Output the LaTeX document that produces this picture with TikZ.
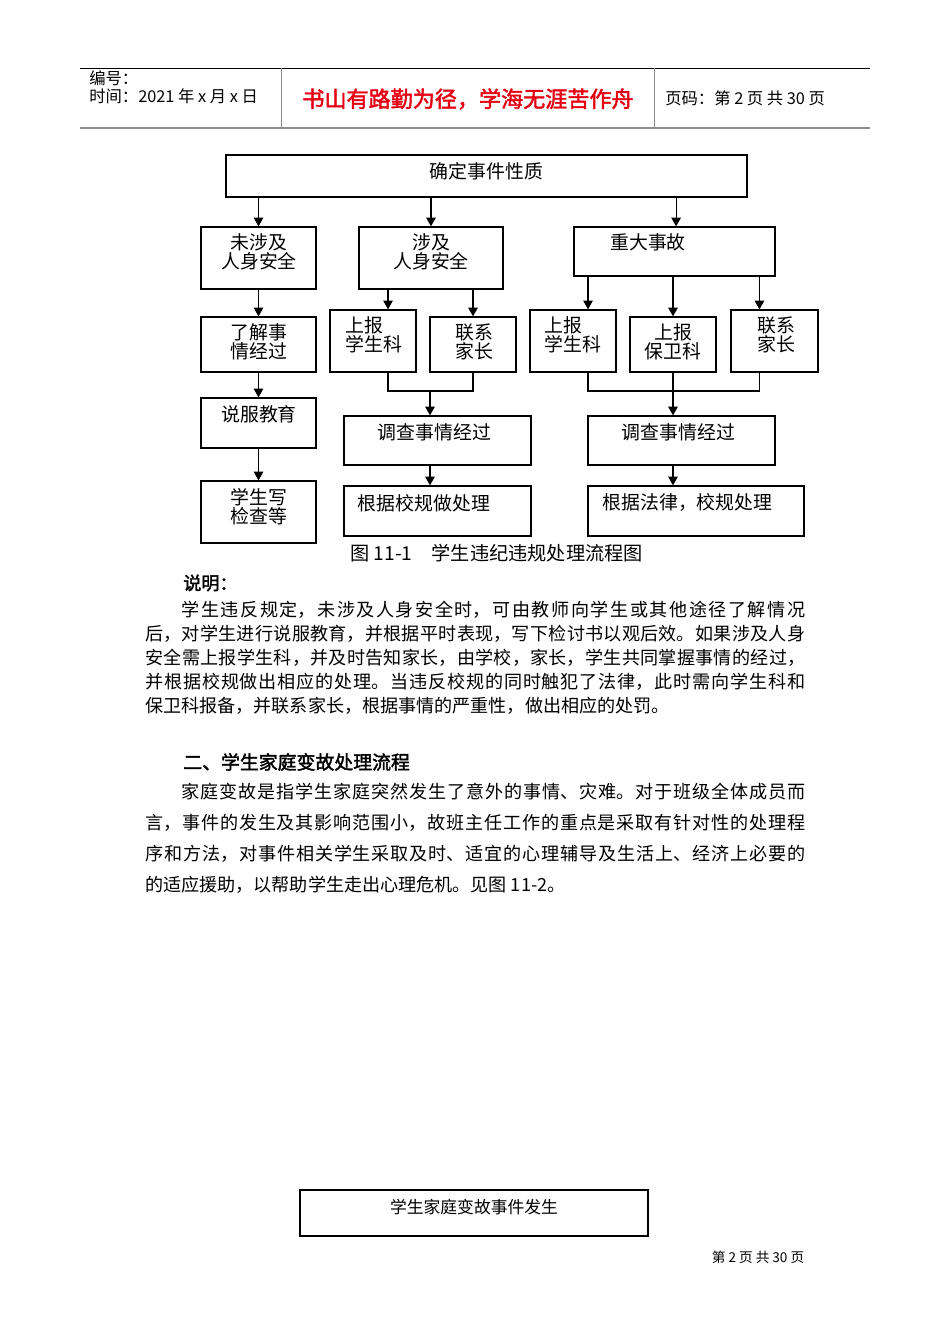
\documentclass[tikz,border=0pt]{standalone}
\usepackage{fontspec}
\setmainfont{Noto Sans CJK SC}
\newfontfamily\boldcjk{Noto Sans CJK SC}[FakeBold=2]
\usepackage{xcolor}
\usetikzlibrary{arrows.meta, positioning}
\definecolor{mottored}{RGB}{230,0,18}
\definecolor{rulegray}{RGB}{140,140,140}
\XeTeXlinebreaklocale "zh"
\XeTeXlinebreakskip=0pt plus 2pt

\begin{document}
\begin{tikzpicture}[x=0.625pt,y=-0.625pt,
    box/.style 2 args={draw,line width=0.8pt,minimum width=#1*0.625pt,
      minimum height=#2*0.625pt,inner sep=0pt},
    txt/.style={font=\fontsize{11.8}{11.9}\selectfont,align=center,inner sep=0pt},
    ltxt/.style={txt,align=left},
    arrow/.style={-{Triangle[length=5.5pt,width=6pt]},line width=0.7pt},
    link/.style={line width=0.7pt},
    head/.style={anchor=west,inner sep=0pt,font=\fontsize{10.2}{12}\selectfont},
    para/.style={anchor=north west,inner sep=0pt,text width=412.5pt,align=justify},
  ]
  \useasboundingbox (0,0) rectangle (950,1344);
  \fill[white] (0,0) rectangle (950,1344);

  % page header
  \draw[line width=0.6pt] (80,68) -- (870,68);
  \draw[rulegray,line width=1.3pt] (80,128) -- (870,128);
  \draw[rulegray,line width=0.6pt] (281,68) -- (281,128);
  \draw[rulegray,line width=0.6pt] (654,68) -- (654,128);
  \node[head] (serial) at (89,78) {编号：};
  \node[head] (date) at (89,96) {时间：2021 年 x 月 x 日};
  \node[inner sep=0pt,mottored,font=\boldcjk\fontsize{13.8}{15}\selectfont]
    (motto) at (468,99) {书山有路勤为径，学海无涯苦作舟};
  \node[head] (pageno) at (665,98) {页码：第 2 页 共 30 页};

  % flowchart boxes
  \node[box={521}{42}] (nature) at (486.5,176) {};
  \node[box={115}{62}] (nosafe) at (258.5,258) {};
  \node[box={144}{62}] (safe) at (431,258) {};
  \node[box={201}{49}] (major) at (674.5,251.5) {};
  \node[box={115}{55}] (learn) at (258.5,344.5) {};
  \node[box={86}{62}] (reportA) at (373,341) {};
  \node[box={86}{55}] (parentA) at (473,344.5) {};
  \node[box={86}{62}] (reportB) at (573,341) {};
  \node[box={86}{55}] (guard) at (673,344.5) {};
  \node[box={87}{62}] (parentB) at (774.5,341) {};
  \node[box={115}{50}] (persuade) at (258.5,423) {};
  \node[box={115}{62}] (review) at (258.5,512) {};
  \node[box={187}{49}] (probeA) at (437.5,440.5) {};
  \node[box={187}{50}] (rulesA) at (437.5,511) {};
  \node[box={187}{49}] (probeB) at (681.5,440.5) {};
  \node[box={216}{50}] (rulesB) at (696,511) {};

  % box texts
  \node[txt] (nature-t) at (486.5,171) {确定事件性质};
  \node[txt] (nosafe-t) at (259,251.5) {未涉及\\人身安全};
  \node[txt] (safe-t) at (431,251.5) {涉及\\人身安全};
  \node[txt] (major-t) at (648,242) {重大事故};
  \node[txt] (learn-t) at (259,341.5) {了解事\\情经过};
  \node[ltxt] (reportA-t) at (374,335) {上报\\学生科};
  \node[txt] (parentA-t) at (474,341.5) {联系\\家长};
  \node[ltxt] (reportB-t) at (573,335) {上报\\学生科};
  \node[txt] (guard-t) at (673,341.5) {上报\\保卫科};
  \node[txt] (parentB-t) at (776,335) {联系\\家长};
  \node[txt] (persuade-t) at (259,414) {说服教育};
  \node[txt] (review-t) at (259,506.5) {学生写\\检查等};
  \node[txt] (probeA-t) at (434.5,432) {调查事情经过};
  \node[txt] (rulesA-t) at (424,503) {根据校规做处理};
  \node[txt] (probeB-t) at (678.5,432) {调查事情经过};
  \node[txt] (rulesB-t) at (687.5,503) {根据法律，校规处理};

  % first level
  \draw[arrow] (nature.south -| nosafe.north) -- (nosafe.north);
  \draw[arrow] (nature.south -| safe.north) -- (safe.north);
  \draw[arrow] ([xshift=1pt]nature.south -| major.north) -- ([xshift=1pt]major.north);

  % left column
  \draw[arrow] (nosafe) -- (learn);
  \draw[arrow] (learn) -- (persuade);
  \draw[arrow] (persuade) -- (review);

  % middle column
  \coordinate (joinA) at (430,391);
  \draw[arrow] ([xshift=9.4pt]reportA.north |- safe.south) -- ([xshift=9.4pt]reportA.north);
  \draw[arrow] (parentA.north |- safe.south) -- (parentA.north);
  \draw[link] ([xshift=9.4pt]reportA.south) |- (joinA) -| (parentA.south);
  \draw[arrow] (joinA) -- (joinA |- probeA.north);
  \draw[arrow] (joinA |- probeA.south) -- (joinA |- rulesA.north);

  % right column
  \coordinate (joinB) at (guard.south |- joinA);
  \draw[arrow] ([xshift=9.4pt]reportB.north |- major.south) -- ([xshift=9.4pt]reportB.north);
  \draw[arrow] (guard.north |- major.south) -- (guard.north);
  \draw[arrow] ([xshift=-9.4pt]parentB.north |- major.south) -- ([xshift=-9.4pt]parentB.north);
  \draw[link] ([xshift=9.4pt]reportB.south) |- (joinB) -| ([xshift=-9.4pt]parentB.south);
  \draw[arrow] (guard.south) -- (guard.south |- probeB.north);
  \draw[arrow] (joinB |- probeB.south) -- (joinB |- rulesB.north);

  \node[anchor=west,inner sep=0pt,font=\fontsize{12}{14}\selectfont]
    (caption) at (350,553) {图 11-1　学生违纪违规处理流程图};

  % explanation
  \node[anchor=west,inner sep=0pt,font=\boldcjk\fontsize{11.3}{14}\selectfont]
    (note) at (183,583) {说明：};
  \node[para,font=\fontsize{11.3}{15}\selectfont] (notetext) at (145,601)
    {\hspace*{2em}学生违反规定，未涉及人身安全时，可由教师向学生或其他途径了解情况\linebreak
     后，对学生进行说服教育，并根据平时表现，写下检讨书以观后效。如果涉及人身\linebreak
     安全需上报学生科，并及时告知家长，由学校，家长，学生共同掌握事情的经过，\linebreak
     并根据校规做出相应的处理。当违反校规的同时触犯了法律，此时需向学生科和\linebreak
     保卫科报备，并联系家长，根据事情的严重性，做出相应的处罚。};

  % section two
  \node[anchor=west,inner sep=0pt,font=\boldcjk\fontsize{11.8}{14}\selectfont]
    (section) at (183,762) {二、学生家庭变故处理流程};
  \node[para,font=\fontsize{11.3}{19.4}\selectfont] (sectiontext) at (145,783)
    {\hspace*{2em}家庭变故是指学生家庭突然发生了意外的事情、灾难。对于班级全体成员而\linebreak
     言，事件的发生及其影响范围小，故班主任工作的重点是采取有针对性的处理程\linebreak
     序和方法，对事件相关学生采取及时、适宜的心理辅导及生活上、经济上必要的\linebreak
     的适应援助，以帮助学生走出心理危机。见图 11-2。};

  % next chart
  \node[box={348}{46},line width=1.8pt] (family) at (474,1213) {};
  \node[txt,font=\fontsize{10.5}{12}\selectfont] (family-t) at (474,1207) {学生家庭变故事件发生};

  \node[inner sep=0pt,font=\fontsize{8.5}{10}\selectfont] (footer) at (758,1257) {第 2 页 共 30 页};
\end{tikzpicture}
\end{document}
